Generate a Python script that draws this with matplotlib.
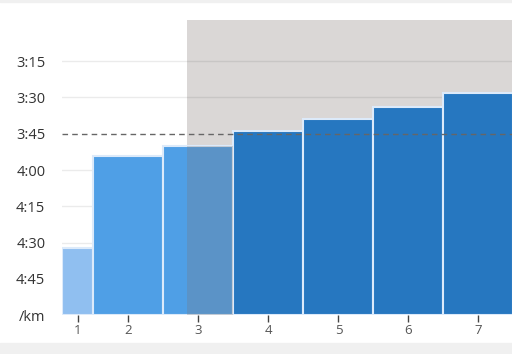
import numpy as np
import matplotlib.pyplot as plt
from matplotlib.patches import Rectangle

plt.rcParams['font.family'] = ['Open Sans', 'DejaVu Sans']

# split data: km label, length of each split (km), pace in seconds per km
km_labels = ['1', '2', '3', '4', '5', '6', '7']
km_length = [0.45, 1, 1, 1, 1, 1, 1]
pace_sec = [272, 234, 230, 224, 219, 214, 208]
bar_colors = ['#90bff0', '#4f9fe6', '#4f9fe6', '#2677c0', '#2677c0', '#2677c0', '#2677c0']

target_pace = 225          # 3:45 dashed line
lap_start_km = 1.78        # start of the shaded lap
pace_ticks = [195, 210, 225, 240, 255, 270, 285, 300]


def fmt_pace(s):
    if s == 300:
        return '/km'
    return '%d:%02d' % (s // 60, s % 60)


fig = plt.figure(figsize=(5.12, 3.54), dpi=100)
fig.patch.set_facecolor('white')
fig.patches.append(Rectangle((0, 0), 1, 11 / 354, transform=fig.transFigure,
                             color='#f0f0f0', zorder=0))
fig.patches.append(Rectangle((0, 1 - 2 / 354), 1, 2 / 354, transform=fig.transFigure,
                             color='#f0f0f0', zorder=0))

ax = fig.add_axes([62 / 512, 1 - 315.3 / 354, 450 / 512, (315.3 - 20) / 354])

edges = np.concatenate([[0], np.cumsum(km_length)])
centers = (edges[:-1] + edges[1:]) / 2
heights = np.array(pace_sec) - 300

ax.set_xlim(0, 6.43)
ax.set_ylim(300, 178)

# shaded lap
ax.axvspan(lap_start_km, 10, color='#dad7d6', lw=0, zorder=0)

# grid
for t in pace_ticks[:-1]:
    if t != target_pace:
        ax.axhline(t, color='black', alpha=0.08, lw=1, zorder=0.5)

bars = ax.bar(centers, heights, width=km_length, bottom=300, color=bar_colors,
              edgecolor='#dceafa', linewidth=1.5, zorder=2)

# the lap shade darkens the part of bar 3 it covers
over = ax.axvspan(lap_start_km, 10, color='#7c7674', alpha=0.27, lw=0, zorder=3)
over.set_clip_path(bars[2])

ax.axhline(target_pace, color='#666666', lw=1, dashes=(4, 3), zorder=4)

ax.set_yticks(pace_ticks)
ax.set_yticklabels([fmt_pace(t) for t in pace_ticks])
ax.set_xticks(centers)
ax.set_xticklabels(km_labels)

ax.tick_params(axis='y', length=0, pad=12, labelsize=10.5, labelcolor='#333333')
ax.tick_params(axis='x', length=5, width=1, color='#444444', pad=1.5,
               labelsize=9.5, labelcolor='#555555')
for s in ax.spines.values():
    s.set_visible(False)
ax.set_facecolor('none')

plt.savefig('out.png', dpi=100)
plt.close()
